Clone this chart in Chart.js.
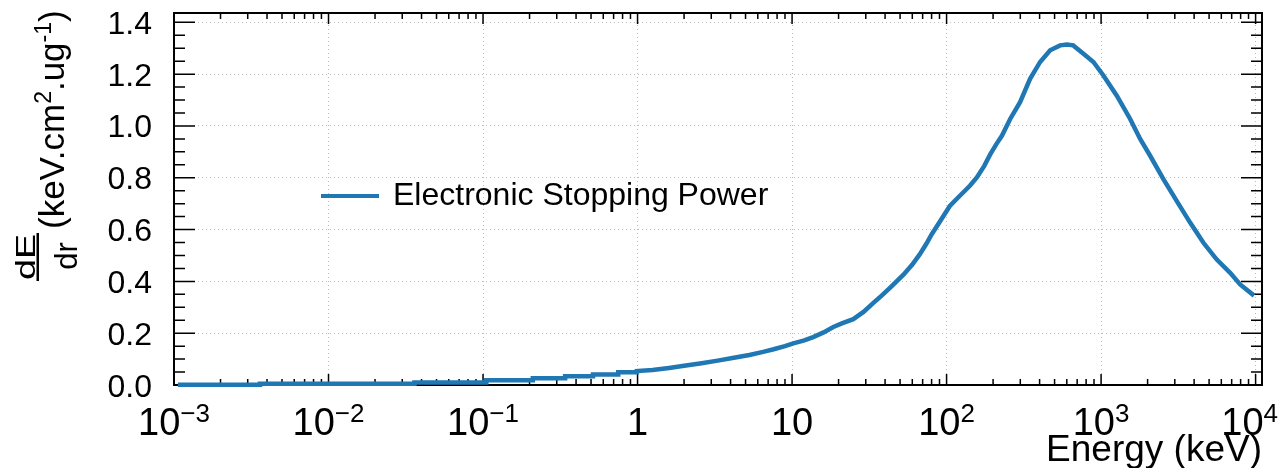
<!DOCTYPE html>
<html>
<head>
<meta charset="utf-8">
<script src="https://cdn.jsdelivr.net/npm/chart.js@4/dist/chart.umd.min.js"></script>
<style>
  html, body { margin: 0; padding: 0; background: #fff; }
  #wrap { width: 1281px; height: 468px; }
</style>
</head>
<body>
<div id="wrap"><canvas id="stoppingChart" width="1281" height="468"></canvas></div>
<script>
// energy in keV, stopping power in keV.cm2/ug
const energy = [0.00106, 0.0036, 0.0036, 0.036, 0.036, 0.105, 0.105, 0.21, 0.21, 0.34, 0.34,
  0.515, 0.515, 0.75, 0.75, 0.99, 0.99, 1.25, 1.6, 2.0, 2.6, 3.3, 4.2, 5.3, 6.5, 7.6, 9.0,
  10.2, 12, 13.7, 16, 18.5, 21, 24.9, 29, 33.6, 38, 43, 52.6, 60, 67, 74, 80, 91, 105, 117,
  128, 142, 157, 175, 192, 210, 228, 258, 299, 347, 403, 468, 543, 600, 660, 769, 892, 1035,
  1264, 1542, 1790, 2077, 2531, 3090, 3768, 4595, 5608, 6843, 7943, 9770];
const dedx = [0.001, 0.001, 0.005, 0.005, 0.010, 0.010, 0.018, 0.018, 0.026, 0.026, 0.034,
  0.034, 0.041, 0.041, 0.049, 0.049, 0.054, 0.058, 0.066, 0.074, 0.084, 0.094, 0.105, 0.116,
  0.128, 0.138, 0.150, 0.161, 0.172, 0.185, 0.203, 0.224, 0.238, 0.254, 0.282, 0.317, 0.345,
  0.375, 0.426, 0.465, 0.504, 0.545, 0.581, 0.633, 0.691, 0.720, 0.743, 0.770, 0.801, 0.845,
  0.891, 0.930, 0.962, 1.027, 1.092, 1.182, 1.247, 1.292, 1.311, 1.314, 1.311, 1.279, 1.247,
  1.195, 1.117, 1.027, 0.950, 0.885, 0.795, 0.710, 0.627, 0.549, 0.484, 0.433, 0.388, 0.345];

const xTicks = [0.001, 0.01, 0.1, 1, 10, 100, 1000, 10000];
const xTickBase = ['10', '10', '10', '1', '10', '10', '10', '10'];
const xTickExp = ['\u22123', '\u22122', '\u22121', '', '', '2', '3', '4'];
const yTicks = [0, 0.2, 0.4, 0.6, 0.8, 1.0, 1.2, 1.4];
const yTickLabels = ['0.0', '0.2', '0.4', '0.6', '0.8', '1.0', '1.2', '1.4'];
const yMinorStep = 0.05;

const seriesLabel = 'Electronic Stopping Power';
const FONT = "'Liberation Sans', Arial, Helvetica, sans-serif";
const BLUE = '#1f77b4';

const frameAndTicks = {
    id: 'frameAndTicks',
    beforeDatasetsDraw(chart) {
        const {ctx, chartArea: a, scales: {x, y}} = chart;
        ctx.save();
        ctx.strokeStyle = '#000';
        ctx.lineWidth = 1.5;
        ctx.beginPath();
        // y ticks, left and right
        for (let i = 0; i * yMinorStep <= y.max + 1e-9; i++) {
            const py = y.getPixelForValue(i * yMinorStep);
            const len = i % 4 === 0 ? 21 : 11;
            ctx.moveTo(a.left, py); ctx.lineTo(a.left + len, py);
            ctx.moveTo(a.right, py); ctx.lineTo(a.right - len, py);
        }
        // x ticks, bottom and top
        xTicks.forEach(v => {
            for (let m = 1; m <= 9; m++) {
                const val = v * m;
                if (val > x.max) break;
                const px = x.getPixelForValue(val);
                const len = m === 1 ? 11 : 6;
                ctx.moveTo(px, a.bottom); ctx.lineTo(px, a.bottom - len);
                ctx.moveTo(px, a.top); ctx.lineTo(px, a.top + len);
            }
        });
        ctx.stroke();
        ctx.lineWidth = 2;
        ctx.strokeRect(a.left, a.top, a.width, a.height);

        // tick labels
        ctx.fillStyle = '#000';
        ctx.textAlign = 'right';
        ctx.font = '32px ' + FONT;
        yTicks.forEach((v, i) => {
            ctx.fillText(yTickLabels[i], a.left - 22, y.getPixelForValue(v) + 11.5);
        });
        ctx.textAlign = 'left';
        xTicks.forEach((v, i) => {
            const px = x.getPixelForValue(v);
            ctx.font = '38px ' + FONT;
            const wb = ctx.measureText(xTickBase[i]).width;
            ctx.font = '26px ' + FONT;
            const we = xTickExp[i] ? ctx.measureText(xTickExp[i]).width : 0;
            const x0 = Math.min(px - (wb + we) / 2, chart.width - 3 - wb - we);
            ctx.font = '38px ' + FONT;
            ctx.fillText(xTickBase[i], x0, a.bottom + 50);
            if (xTickExp[i]) {
                ctx.font = '26px ' + FONT;
                ctx.fillText(xTickExp[i], x0 + wb, a.bottom + 37);
            }
        });
        ctx.restore();
    },
    afterDraw(chart) {
        const {ctx, chartArea: a} = chart;
        ctx.save();
        ctx.fillStyle = '#000';

        // x title
        ctx.font = '37px ' + FONT;
        ctx.textAlign = 'right';
        ctx.fillText('Energy (keV)', a.right, 461);

        // legend
        const lx = a.left + 147, ly = a.top + 183;
        ctx.strokeStyle = BLUE;
        ctx.lineWidth = 4;
        ctx.beginPath();
        ctx.moveTo(lx, ly); ctx.lineTo(lx + 58, ly);
        ctx.stroke();
        ctx.textAlign = 'left';
        ctx.font = '32px ' + FONT;
        ctx.fillText(seriesLabel, lx + 72, ly + 9);

        // y title: dE/dr (keV.cm^2.ug^-1), rotated
        ctx.rotate(-Math.PI / 2);
        ctx.textAlign = 'center';
        ctx.save();
        ctx.translate(-257, 35);
        ctx.scale(1.4, 1);
        ctx.font = '27px ' + FONT;
        ctx.fillText('dE', 0, 0);
        ctx.restore();
        ctx.fillRect(-281, 36.5, 48, 2.5);
        ctx.font = '31px ' + FONT;
        ctx.fillText('dr', -256, 77);
        ctx.textAlign = 'left';
        let tx = -229;
        const parts = [['(keV.cm', 0], ['2', 1], ['.ug', 0], ['-1', 1], [')', 0]];
        parts.forEach(([t, sup]) => {
            ctx.font = (sup ? '23px ' : '35px ') + FONT;
            ctx.fillText(t, tx, sup ? 51 : 64);
            tx += ctx.measureText(t).width;
        });
        ctx.restore();
    }
};

const ctx = document.getElementById('stoppingChart').getContext('2d');
const chart = new Chart(ctx, {
    type: 'line',
    data: {
        datasets: [{
            label: seriesLabel,
            data: energy.map((e, i) => ({x: e, y: dedx[i]})),
            borderColor: BLUE,
            borderWidth: 4.5,
            pointRadius: 0,
            fill: false,
            tension: 0,
            clip: 6
        }]
    },
    options: {
        responsive: false,
        animation: false,
        devicePixelRatio: 1,
        layout: {
            padding: {left: 174, top: 13, right: 19, bottom: 83}
        },
        plugins: {
            legend: {display: false},
            tooltip: {enabled: false}
        },
        scales: {
            x: {
                type: 'logarithmic',
                min: 0.001,
                max: 11000,
                afterBuildTicks: s => { s.ticks = xTicks.map(v => ({value: v})); },
                afterFit: s => { s.height = 0; },
                ticks: {display: false},
                grid: {color: '#bdbdbd', lineWidth: 1, drawTicks: false},
                border: {display: false, dash: [1, 3]}
            },
            y: {
                type: 'linear',
                min: 0,
                max: 1.436,
                afterBuildTicks: s => { s.ticks = yTicks.map(v => ({value: v})); },
                afterFit: s => { s.width = 0; },
                ticks: {display: false},
                grid: {color: '#bdbdbd', lineWidth: 1, drawTicks: false},
                border: {display: false, dash: [1, 3]}
            }
        }
    },
    plugins: [frameAndTicks]
});
</script>
</body>
</html>
